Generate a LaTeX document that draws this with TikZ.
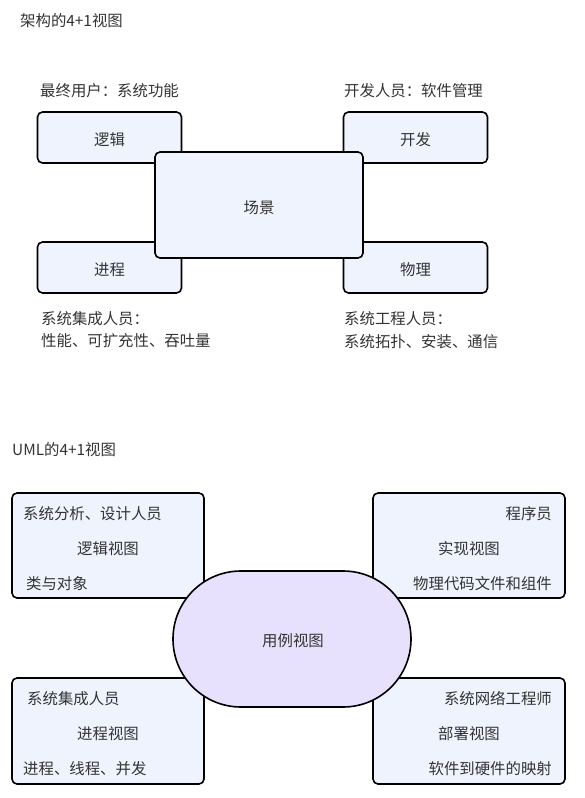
\documentclass[tikz,border=0pt]{standalone}
\usepackage{fontspec}
\setmainfont{Noto Sans CJK SC}
\definecolor{boxfill}{HTML}{EFF3FD}
\definecolor{ovalfill}{HTML}{E8E1FD}
\definecolor{txt}{HTML}{333333}
\begin{document}
\begin{tikzpicture}[x=1pt,y=-1pt,
  box/.style={draw=black, line width=1.6pt, fill=boxfill, rounded corners=5pt, inner sep=0pt},
  oval/.style={draw=black, line width=1.6pt, fill=ovalfill, rounded corners=67.9pt, inner sep=0pt},
  lbl/.style={inner sep=0pt, text=txt, font=\fontsize{15.4}{18}\selectfont}]
\useasboundingbox (0,0) rectangle (584,798);
% ---- top diagram
\node[lbl, anchor=west] (t1) at (20,21) {架构的4+1视图};
\node[box, minimum width=144pt, minimum height=51pt] (logic) at (109.5,137.5) {};
\node[lbl] (logict) at ([yshift=-2.5pt]logic.center) {逻辑};
\node[box, minimum width=144pt, minimum height=51pt] (dev) at (415.5,137.5) {};
\node[lbl] (devt) at ([yshift=-2.5pt]dev.center) {开发};
\node[box, minimum width=144pt, minimum height=51pt] (proc) at (109.5,267.5) {};
\node[lbl] (proct) at ([yshift=-2.5pt]proc.center) {进程};
\node[box, minimum width=144pt, minimum height=51pt] (phys) at (415.5,267.5) {};
\node[lbl] (physt) at ([yshift=-2.5pt]phys.center) {物理};
\node[box, minimum width=208pt, minimum height=106pt] (scene) at (259,205) {};
\node[lbl] (scenet) at ([yshift=-2.5pt]scene.center) {场景};
\node[lbl, anchor=west] (l1) at (40,91) {最终用户：系统功能};
\node[lbl, anchor=west] (l2) at (344,91) {开发人员：软件管理};
\node[lbl, anchor=west] (l3) at (41,319) {系统集成人员：};
\node[lbl, anchor=west] (l4) at (41,341) {性能、可扩充性、吞吐量};
\node[lbl, anchor=west] (l5) at (344,319) {系统工程人员：};
\node[lbl, anchor=west] (l6) at (344,342) {系统拓扑、安装、通信};
% ---- bottom diagram
\node[lbl, anchor=west] (t2) at (12,450) {UML的4+1视图};
\node[box, minimum width=192pt, minimum height=105pt] (tl) at (108,545.5) {};
\node[box, minimum width=192pt, minimum height=105pt] (tr) at (469,545.5) {};
\node[box, minimum width=192pt, minimum height=106pt] (bl) at (108,731) {};
\node[box, minimum width=192pt, minimum height=106pt] (br) at (469,731) {};
\node[oval, minimum width=238pt, minimum height=136pt] (usecase) at (292,639) {};
\node[lbl] (uct) at (293,641) {用例视图};
% texts in boxes
\node[lbl, anchor=west] (tla) at (23,514) {系统分析、设计人员};
\node[lbl] (tlb) at (108,549) {逻辑视图};
\node[lbl, anchor=west] (tlc) at (26,584) {类与对象};
\node[lbl, anchor=east] (tra) at (552,514) {程序员};
\node[lbl] (trb) at (469,549) {实现视图};
\node[lbl, anchor=east] (trc) at (552,584) {物理代码文件和组件};
\node[lbl, anchor=west] (bla) at (27,699) {系统集成人员};
\node[lbl] (blb) at (108,734) {进程视图};
\node[lbl, anchor=west] (blc) at (23,769) {进程、线程、并发};
\node[lbl, anchor=east] (bra) at (552,699) {系统网络工程师};
\node[lbl] (brb) at (469,734) {部署视图};
\node[lbl, anchor=east] (brc) at (552,769) {软件到硬件的映射};
\end{tikzpicture}
\end{document}
